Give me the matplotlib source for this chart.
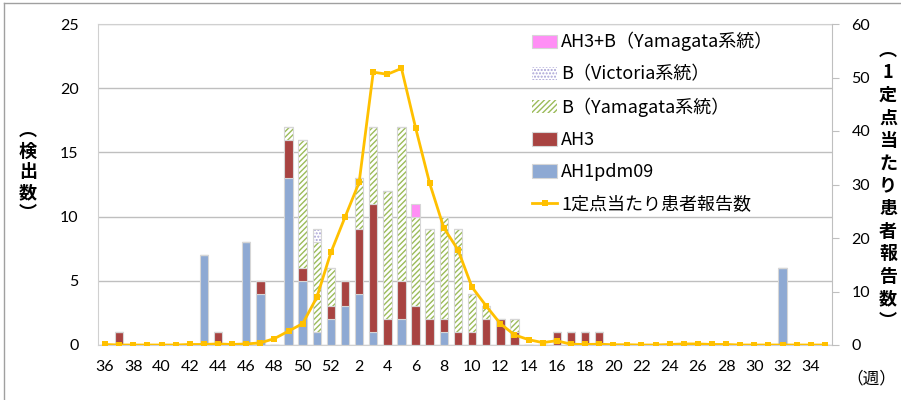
import matplotlib
matplotlib.use("Agg")
import matplotlib.pyplot as plt
import numpy as np
from matplotlib.patches import Patch
from matplotlib.lines import Line2D

plt.rcParams['font.family'] = ['Noto Sans CJK JP', 'DejaVu Sans']
plt.rcParams['hatch.linewidth'] = 1.0

weeks = list(range(36, 53)) + list(range(1, 36))

# detections per week (index 0 = week 36)
def by_week(d):
    return [d.get(w, 0) for w in weeks]

ah1pdm09 = by_week({43: 7, 46: 8, 47: 4, 49: 13, 50: 5, 51: 1, 52: 2, 1: 3, 2: 4,
                    3: 1, 5: 2, 8: 1, 32: 6})
ah3 = by_week({37: 1, 44: 1, 47: 1, 49: 3, 50: 1, 52: 1, 1: 2, 2: 5, 3: 10, 4: 2,
               5: 3, 6: 3, 7: 2, 8: 1, 9: 1, 10: 1, 11: 2, 12: 2, 13: 1,
               16: 1, 17: 1, 18: 1, 19: 1})
b_yamagata = by_week({49: 1, 50: 10, 51: 7, 52: 3, 2: 4, 3: 6, 4: 10, 5: 12, 6: 7,
                      7: 7, 8: 8, 9: 8, 10: 3, 11: 1, 13: 1})
b_victoria = by_week({51: 1})
ah3_b_yamagata = by_week({6: 1})

per_sentinel = [0.1, 0, 0, 0, 0, 0, 0.1, 0.1, 0.2, 0.1, 0.2, 0.4, 1.2, 2.6, 4.0, 8.9,
                17.3, 23.9, 30.4, 51.0, 50.6, 51.7, 40.6, 30.2, 21.9, 17.8, 10.8,
                7.3, 4.0, 1.9, 1.0, 0.45, 0.8, 0.15, 0.1, 0.15, 0.05, 0.05, 0, 0,
                0.1, 0.2, 0.2, 0.1, 0.1, 0, 0, 0, 0, 0, 0, 0]

labels = ['AH3+B（Yamagata系統）', 'B（Victoria系統）', 'B（Yamagata系統）',
          'AH3', 'AH1pdm09', '1定点当たり患者報告数']

c_blue = '#8EA9D3'
c_red = '#A84341'
c_green = '#9BBB59'
c_vic = '#A9A3D6'
c_pink = '#FF8FF5'
c_line = '#FFC000'
c_edge = '#D6D6D6'

fig = plt.figure(figsize=(9.01, 4.0), dpi=100)
W, H = 901, 400
ax = fig.add_axes([98 / W, (400 - 345) / H, (832 - 98) / W, (345 - 24) / H])

x = np.arange(len(weeks))
bw = 0.6
a1 = np.array(ah1pdm09, float)
a3 = np.array(ah3, float)
by = np.array(b_yamagata, float)
bv = np.array(b_victoria, float)
ab = np.array(ah3_b_yamagata, float)

b0 = np.zeros(len(x))
ax.bar(x, a1, bw, bottom=b0, color=c_blue, edgecolor=c_edge, linewidth=0.8, zorder=2)
b0 = b0 + a1
ax.bar(x, a3, bw, bottom=b0, color=c_red, edgecolor=c_edge, linewidth=0.8, zorder=2)
b0 = b0 + a3
ax.bar(x, by, bw, bottom=b0, color='white', edgecolor=c_green, hatch='//////', linewidth=0, zorder=2)
ax.bar(x, by, bw, bottom=b0, color='none', edgecolor=c_edge, linewidth=0.8, zorder=2)
b0 = b0 + by
ax.bar(x, bv, bw, bottom=b0, color='white', edgecolor=c_vic, hatch='.....', linewidth=0, zorder=2)
ax.bar(x, bv, bw, bottom=b0, color='none', edgecolor=c_edge, linewidth=0.8, zorder=2)
b0 = b0 + bv
ax.bar(x, ab, bw, bottom=b0, color=c_pink, edgecolor=c_edge, linewidth=0.8, zorder=2)

ax.set_xlim(-0.5, len(weeks) - 0.5)
ax.set_ylim(0, 25)
ax.set_yticks(range(0, 26, 5))
ax.yaxis.grid(True, color='#BFBFBF', linewidth=1.0)
ax.set_axisbelow(True)
ax.set_xticks(x[::2])
ax.set_xticklabels([str(w) for w in weeks[::2]])
ax.tick_params(axis='x', length=0, pad=11, labelsize=11.5)
ax.tick_params(axis='y', length=0, pad=14, labelsize=11.5)
for lab in ax.get_xticklabels() + ax.get_yticklabels():
    lab.set_fontfamily(['Lato', 'DejaVu Sans'])
for s in ['left', 'bottom', 'top']:
    ax.spines[s].set_color('#D0D0D0')
ax.spines['right'].set_visible(False)

ax2 = ax.twinx()
ax2.set_ylim(0, 60)
ax2.set_yticks(range(0, 61, 10))
ax2.plot(x, per_sentinel, color=c_line, linewidth=2.0, marker='s', markersize=5,
         markeredgewidth=0, zorder=5)
ax2.tick_params(axis='y', length=5, color='#BFBFBF', pad=9, labelsize=11.5)
for lab in ax2.get_yticklabels():
    lab.set_fontfamily(['Lato', 'DejaVu Sans'])
for s in ['left', 'bottom', 'top']:
    ax2.spines[s].set_visible(False)
ax2.spines['right'].set_color('#BFBFBF')

handles = [
    Patch(facecolor=c_pink, edgecolor=c_edge, linewidth=0.8),
    Patch(facecolor='white', edgecolor=c_vic, hatch='.....', linewidth=0),
    Patch(facecolor='white', edgecolor=c_green, hatch='//////', linewidth=0),
    Patch(facecolor=c_red, edgecolor=c_edge, linewidth=0.8),
    Patch(facecolor=c_blue, edgecolor=c_edge, linewidth=0.8),
    Line2D([], [], color=c_line, linewidth=2.0, marker='s', markersize=5, markeredgewidth=0),
]
leg = ax2.legend(handles, labels, loc='upper left',
                 bbox_to_anchor=(532 / W, (400 - 32) / H), bbox_transform=fig.transFigure,
                 frameon=False, fontsize=13, handlelength=1.4, handleheight=0.75,
                 handletextpad=0.2, labelspacing=0.78, borderaxespad=0, borderpad=0)

# figure border (top and left)
fig.add_artist(Line2D([4 / W, 4 / W], [0, 1 - 3 / H], transform=fig.transFigure, color='#A0A0A0', lw=1))
fig.add_artist(Line2D([4 / W, 1], [1 - 3 / H, 1 - 3 / H], transform=fig.transFigure, color='#A0A0A0', lw=1))

left_lab = '\n'.join(['︵', '検', '出', '数', '︶'])
fig.text(28 / W, 1 - 172 / H, left_lab, ha='center', va='center', fontsize=13,
         fontweight='bold', linespacing=1.12)
right_lab = '\n'.join(['︵', '1', '定', '点', '当', 'た', 'り', '患', '者', '報', '告', '数', '︶'])
fig.text(888 / W, 1 - 186 / H, right_lab, ha='center', va='center', fontsize=13,
         fontweight='bold', linespacing=1.24)
fig.text(871 / W, 1 - 379 / H, '（週）', ha='center', va='center', fontsize=12)

fig.savefig('out.png', dpi=100)
